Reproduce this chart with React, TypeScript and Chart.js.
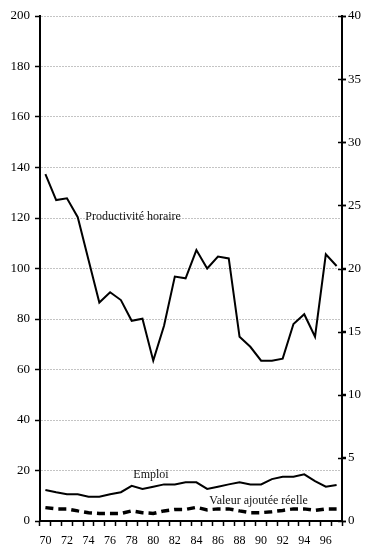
import React, { useEffect, useRef } from "react";
import { Chart, registerables } from "chart.js";

Chart.register(...registerables);

const years = ["70","71","72","73","74","75","76","77","78","79","80","81","82","83","84","85","86","87","88","89","90","91","92","93","94","95","96","97"];
const productivite = [137.4,127.1,127.8,120.3,103.4,86.5,90.6,87.5,79.3,80.1,63.5,77.3,96.8,96.1,107.3,100,104.7,104,73,69,63.5,63.5,64.3,78,81.9,73,105.6,101];
const emploi = [12.3,11.4,10.6,10.6,9.6,9.6,10.6,11.4,13.9,12.7,13.6,14.5,14.5,15.3,15.3,12.7,13.6,14.5,15.3,14.5,14.5,16.6,17.5,17.5,18.5,15.8,13.6,14.3];
const valeurAjoutee = [5.3,4.8,4.8,4.0,3.3,3.0,3.0,3.0,4.0,3.3,3.0,4.0,4.6,4.6,5.4,4.4,4.8,4.8,4.0,3.3,3.3,3.7,4.2,4.8,4.8,4.2,4.8,4.8];
const seriesNames = ["Productivité horaire", "Emploi", "Valeur ajoutée réelle"];
const labelAnchors = [
  { text: "Productivité horaire", x: 3.7, y: 120.3 },
  { text: "Emploi", x: 8.15, y: 18.2 },
  { text: "Valeur ajoutée réelle", x: 15.2, y: 7.9 },
];

const FONT = "'Liberation Serif', 'Times New Roman', serif";

const labelPlugin = {
  id: "seriesLabels",
  afterDatasetsDraw(chart: any) {
    const ctx = chart.ctx;
    const xs = chart.scales.x;
    const ys = chart.scales.y;
    ctx.save();
    ctx.font = `12px ${FONT}`;
    ctx.fillStyle = "#111";
    ctx.textAlign = "left";
    ctx.textBaseline = "middle";
    for (const a of labelAnchors) {
      ctx.fillText(a.text, xs.getPixelForValue(a.x), ys.getPixelForValue(a.y));
    }
    ctx.restore();
  },
  afterDraw(chart: any) {
    const ctx = chart.ctx;
    const yr = chart.scales.y1;
    ctx.save();
    ctx.strokeStyle = "#000";
    ctx.lineWidth = 1.5;
    for (const t of yr.ticks) {
      const py = Math.round(yr.getPixelForValue(t.value)) + 0.5;
      ctx.beginPath();
      ctx.moveTo(yr.left - 4, py);
      ctx.lineTo(yr.left + 4, py);
      ctx.stroke();
    }
    ctx.restore();
  },
};

export default function App() {
  const ref = useRef<HTMLCanvasElement | null>(null);
  useEffect(() => {
    document.body.style.margin = "0";
    const chart = new Chart(ref.current as HTMLCanvasElement, {
      type: "line",
      data: {
        labels: years,
        datasets: [
          { label: seriesNames[0], data: productivite, borderColor: "#000", borderWidth: 2, pointRadius: 0, tension: 0, yAxisID: "y" },
          { label: seriesNames[1], data: emploi, borderColor: "#000", borderWidth: 2, pointRadius: 0, tension: 0, yAxisID: "y" },
          { label: seriesNames[2], data: valeurAjoutee, borderColor: "#000", borderWidth: 3.5, borderDash: [8, 5], borderCapStyle: "butt", pointRadius: 0, tension: 0, yAxisID: "y" },
        ],
      },
      options: {
        responsive: false,
        animation: false,
        layout: { padding: { top: 16, bottom: 0, left: 0, right: 0 } },
        plugins: { legend: { display: false }, tooltip: { enabled: false } },
        scales: {
          x: {
            offset: true,
            grid: { offset: true, drawOnChartArea: false, drawTicks: true, tickLength: 5, tickColor: "#000", tickWidth: 1.5 },
            border: { display: true, color: "#000", width: 2 },
            ticks: {
              autoSkip: false,
              maxRotation: 0,
              color: "#000",
              font: { family: FONT, size: 12 },
              padding: 8,
              callback: (_v: any, i: number) => (i % 2 === 0 ? years[i] : ""),
            },
            afterFit: (s: any) => { s.height = 26; },
          },
          y: {
            position: "left",
            min: 0,
            max: 200,
            ticks: { stepSize: 20, color: "#000", font: { family: FONT, size: 13 }, padding: 5 },
            grid: { color: "#c4c4c4", lineWidth: 1, drawTicks: true, tickLength: 5, tickColor: "#000", tickWidth: 1.5 },
            border: { display: true, color: "#000", width: 2, dash: [2, 1] },
            afterFit: (s: any) => { s.width = 40; },
          },
          y1: {
            position: "right",
            min: 0,
            max: 40,
            ticks: { stepSize: 5, color: "#000", font: { family: FONT, size: 13 }, padding: 2 },
            grid: { drawOnChartArea: false, drawTicks: true, tickLength: 4, tickColor: "#000", tickWidth: 1.5 },
            border: { display: true, color: "#000", width: 2 },
            afterFit: (s: any) => { s.width = 27; },
          },
        },
      },
      plugins: [labelPlugin],
    } as any);
    return () => chart.destroy();
  }, []);
  return <canvas ref={ref} width={369} height={547} style={{ display: "block" }} />;
}
